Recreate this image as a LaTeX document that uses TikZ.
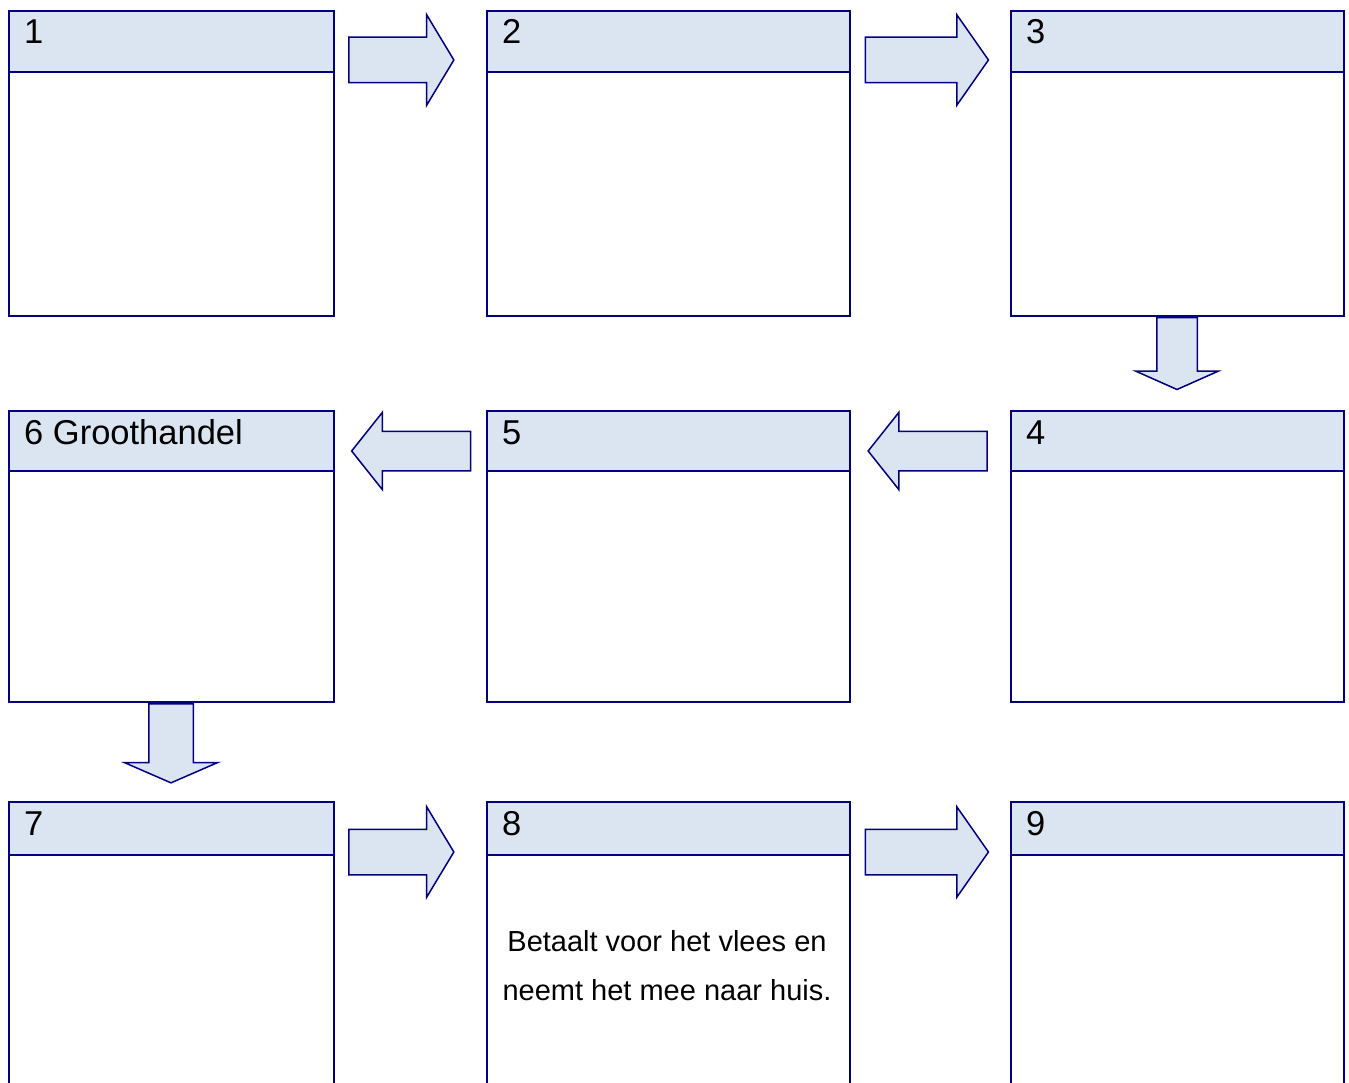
\documentclass[tikz,border=0pt]{standalone}
\usepackage{fontspec}
\setmainfont{Liberation Sans}
\usetikzlibrary{shapes.arrows, calc}
\definecolor{navy}{HTML}{000080}
\definecolor{paleblue}{HTML}{DBE5F1}

\begin{document}
\begin{tikzpicture}[x=1pt, y=-1pt,
	panel/.style={draw=navy, line width=1.9, fill=white, anchor=north west, inner sep=0},
	panelhead/.style={draw=navy, line width=1.9, fill=paleblue, anchor=north west, inner sep=0},
	num/.style={anchor=base west, inner sep=0, font=\fontsize{34.5}{40}\selectfont},
	bodytext/.style={align=center, inner sep=0, font=\fontsize{29}{49}\selectfont},
	blockarrow/.style={single arrow, draw=navy, fill=paleblue, line width=1.5, inner xsep=0, minimum width=0, single arrow head indent=0}]
	\useasboundingbox (0,0) rectangle (1349,1083);
	\clip (0,0) rectangle (1349,1083);

	% panels: name / x / y / width / height / header height / label
	\foreach \n/\x/\y/\w/\h/\hh/\t in {
		1/8/10/325/305/61/1, 2/486/10/363/305/61/2, 3/1010/10/333/305/61/3,
		6/8/410/325/291/60/6 Groothandel, 5/486/410/363/291/60/5, 4/1010/410/333/291/60/4,
		7/8/801/325/320/53/7, 8/486/801/363/320/53/8, 9/1010/801/333/320/53/9}{
		\node[panel, minimum width=\w, minimum height=\h] (b\n) at (\x,\y) {};
		\node[panelhead, minimum width=\w, minimum height=\hh] (h\n) at (b\n.north west) {};
		\node[num] (t\n) at ($(b\n.north west)+(16,34)$) {\t};
	}

	\node[bodytext] (txt8) at (667,966) {Betaalt voor het vlees en\\neemt het mee naar huis.};

	% arrows
	\node[blockarrow, minimum height=105, inner ysep=22, single arrow head extend=22.5, single arrow tip angle=118] (a12) at (394.5,60) {};
	\node[blockarrow, minimum height=123, inner ysep=22, single arrow head extend=22.5, single arrow tip angle=110] (a23) at (919,60) {};
	\node[blockarrow, rotate=-90, minimum height=72, inner ysep=19.5, single arrow head extend=21, single arrow tip angle=132] (a34) at (1177,349) {};
	\node[blockarrow, rotate=180, minimum height=119, inner ysep=19, single arrow head extend=19, single arrow tip angle=103] (a45) at (935.5,451) {};
	\node[blockarrow, rotate=180, minimum height=119, inner ysep=19, single arrow head extend=19, single arrow tip angle=103] (a56) at (419,451) {};
	\node[blockarrow, rotate=-90, minimum height=79, inner ysep=21.5, single arrow head extend=24.5, single arrow tip angle=133] (a67) at (171,738.5) {};
	\node[blockarrow, minimum height=105, inner ysep=22, single arrow head extend=22.5, single arrow tip angle=118] (a78) at (394.5,852) {};
	\node[blockarrow, minimum height=123, inner ysep=22, single arrow head extend=22.5, single arrow tip angle=110] (a89) at (919,852) {};
\end{tikzpicture}
\end{document}
